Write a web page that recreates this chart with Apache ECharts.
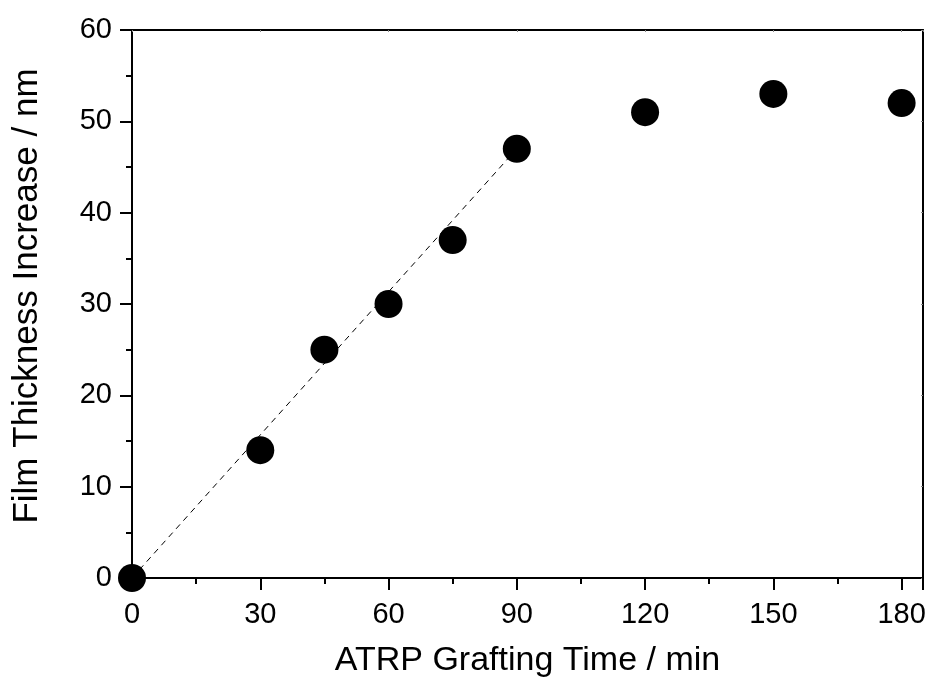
<!DOCTYPE html>
<html><head><meta charset="utf-8">
<script src="https://cdn.jsdelivr.net/npm/echarts@6/dist/echarts.min.js"></script>
<style>html,body{margin:0;padding:0;background:#fff}#c{width:932px;height:683px}</style>
</head><body><div id="c"></div>
<script>
const timeMin = [0, 30, 45, 60, 75, 90, 120, 150, 180];
const thickness = [0, 14, 25, 30, 37, 47, 51, 53, 52];
const fitX = [0, 90];
const fitY = [0, 47];
const xTicks = [0, 30, 60, 90, 120, 150, 180];
const yTicks = [0, 10, 20, 30, 40, 50, 60];

const chart = echarts.init(document.getElementById('c'));
const font = 'Liberation Sans, Arial, sans-serif';
const axisCommon = {
  axisLine: {show: true, lineStyle: {color: '#000', width: 2}},
  axisTick: {show: true, inside: false, length: 12, lineStyle: {color: '#000', width: 2}},
  minorTick: {show: true, splitNumber: 2, length: 6, lineStyle: {color: '#000', width: 2}},
  splitLine: {show: false},
  axisLabel: {color: '#000', fontSize: 29, fontFamily: font},
  nameTextStyle: {color: '#000', fontSize: 34, fontFamily: font}
};
const secondary = {
  axisLine: {show: true, onZero: false, lineStyle: {color: '#000', width: 2}},
  axisTick: {show: true, inside: true, length: 2, lineStyle: {color: '#888', width: 1}},
  minorTick: {show: false},
  splitLine: {show: false},
  axisLabel: {show: false}
};
chart.setOption({
  animation: false,
  backgroundColor: '#fff',
  grid: {left: 132, right: 9, top: 30, bottom: 105, outerBoundsMode: 'none', containLabel: false},
  xAxis: [
    Object.assign({}, axisCommon, {
      type: 'value', min: 0, max: 185, interval: 30,
      name: 'ATRP Grafting Time / min', nameLocation: 'middle', nameGap: 66,
      axisLabel: Object.assign({}, axisCommon.axisLabel, {margin: 22, showMaxLabel: false,
        formatter: v => xTicks.includes(v) ? String(v) : ''})
    }),
    Object.assign({}, secondary, {type: 'value', position: 'top', min: 0, max: 185, interval: 30})
  ],
  yAxis: [
    Object.assign({}, axisCommon, {
      type: 'value', min: 0, max: 60, interval: 10,
      name: 'Film Thickness Increase / nm', nameLocation: 'middle', nameGap: 87,
      nameTextStyle: {color: '#000', fontSize: 35, fontFamily: font, padding: [0, 0, 0, 16]},
      axisLabel: Object.assign({}, axisCommon.axisLabel, {margin: 20,
        formatter: v => yTicks.includes(v) ? String(v) : ''})
    }),
    Object.assign({}, secondary, {type: 'value', position: 'right', min: 0, max: 60, interval: 10})
  ],
  series: [
    {
      type: 'line', data: fitX.map((x, i) => [x, fitY[i]]),
      showSymbol: false, symbol: 'none',
      lineStyle: {color: '#000', width: 1, type: [6, 5]}, z: 1
    },
    {
      type: 'scatter', data: timeMin.map((x, i) => [x, thickness[i]]),
      symbol: 'circle', symbolSize: 28, clip: false,
      itemStyle: {color: '#000', opacity: 1}, z: 3
    }
  ]
});
</script></body></html>
